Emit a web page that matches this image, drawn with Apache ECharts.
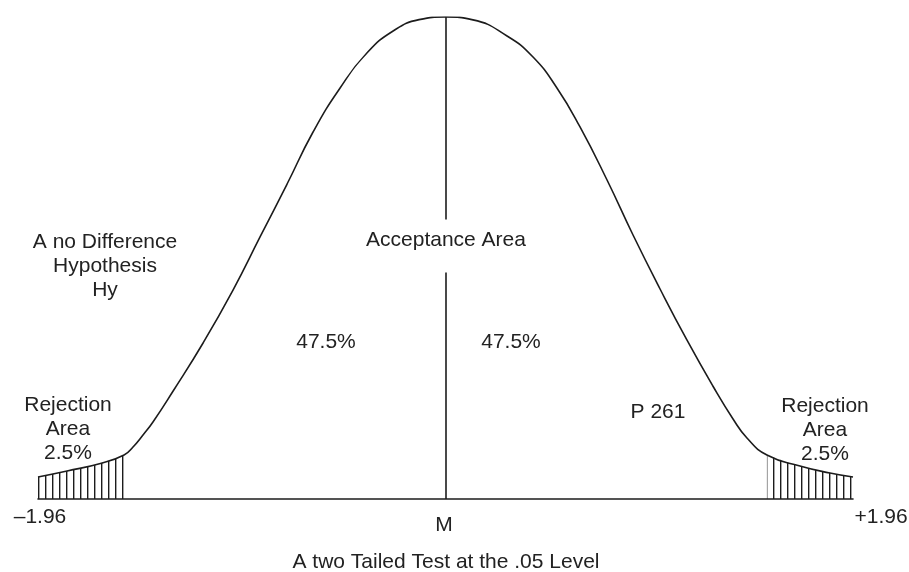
<!DOCTYPE html>
<html>
<head>
<meta charset="utf-8">
<script src="https://cdn.jsdelivr.net/npm/echarts@6/dist/echarts.min.js"></script>
<style>
html, body { margin: 0; padding: 0; background: #fff; }
#chart { width: 909px; height: 572px; }
</style>
</head>
<body>
<div id="chart"></div>
<script>
// curve: z position and height (peak = 100)
var curveZ = [-1.96, -1.82, -1.66, -1.546, -1.503, -1.455, -1.407, -1.31, -1.166, -1.022, -0.892, -0.762, -0.637, -0.507, -0.378, -0.252, -0.127,
	0, 0.132, 0.296, 0.421, 0.536, 0.647, 0.777, 0.902, 1.032, 1.161, 1.286, 1.383, 1.45, 1.546, 1.705, 1.849, 1.96];
var curveH = [4.56, 5.81, 7.37, 9.13, 10.79, 13.28, 15.98, 22.41, 32.37, 43.36, 54.36, 65.35, 76.14, 85.27, 92.53, 97.1, 99.45,
	100, 99.4, 96.06, 91.7, 85.27, 77.18, 66.18, 54.77, 43.57, 32.99, 23.44, 16.6, 12.66, 9.13, 6.85, 5.39, 4.56];

// rejection tails (hatched)
var tailLeft = [-1.96, -1.546];
var tailRight = [1.546, 1.96];

// mean line, broken where the label sits
var meanZ = 0;
var meanGap = [47, 58];

var ink = '#1c1c1c';
var font = '"Liberation Sans", Arial, sans-serif';

var myChart = echarts.init(document.getElementById('chart'));

function pointsBetween(range) {
	var pts = [];
	for (var i = 0; i < curveZ.length; i++) {
		if (curveZ[i] >= range[0] - 1e-9 && curveZ[i] <= range[1] + 1e-9) {
			pts.push([curveZ[i], curveH[i]]);
		}
	}
	return pts;
}

var curve = [];
for (var i = 0; i < curveZ.length; i++) {
	curve.push([curveZ[i], curveH[i]]);
}

// vertical stripe pattern for the hatching
var tile = document.createElement('canvas');
tile.width = 7;
tile.height = 7;
var tctx = tile.getContext('2d');
tctx.fillStyle = ink;
tctx.fillRect(3, 0, 1.4, 7);

function txt(str, x, y) {
	return {
		type: 'text',
		x: x,
		y: y,
		style: {
			text: str,
			fill: '#222',
			font: '21px ' + font,
			align: 'center',
			verticalAlign: 'middle',
			lineHeight: 24
		}
	};
}

var option = {
	animation: false,
	backgroundColor: '#fff',
	grid: { left: 38, right: 56, top: 17, bottom: 73 },
	xAxis: {
		type: 'value',
		min: -1.96,
		max: 1.96,
		axisLine: { show: true, onZero: false, lineStyle: { color: ink, width: 1.6 } },
		axisTick: { show: false },
		axisLabel: { show: false },
		splitLine: { show: false }
	},
	yAxis: {
		type: 'value',
		min: 0,
		max: 100,
		show: false
	},
	series: [
		{
			type: 'line',
			data: pointsBetween(tailLeft),
			smooth: 0.5,
			symbol: 'none',
			lineStyle: { width: 0 },
			areaStyle: { color: { image: tile, repeat: 'repeat' }, opacity: 1 },
			silent: true
		},
		{
			type: 'line',
			data: pointsBetween(tailRight),
			smooth: 0.5,
			symbol: 'none',
			lineStyle: { width: 0 },
			areaStyle: { color: { image: tile, repeat: 'repeat' }, opacity: 1 },
			silent: true
		},
		{
			type: 'line',
			data: curve,
			smooth: 0.5,
			symbol: 'none',
			lineStyle: { color: ink, width: 1.6 },
			silent: true,
			markLine: {
				silent: true,
				symbol: 'none',
				label: { show: false },
				lineStyle: { color: ink, width: 1.6, type: 'solid' },
				data: [
					[{ coord: [meanZ, 0] }, { coord: [meanZ, meanGap[0]] }],
					[{ coord: [meanZ, meanGap[1]] }, { coord: [meanZ, 100] }]
				]
			}
		}
	],
	graphic: [
		txt('A no Difference\nHypothesis\nHy', 105, 266),
		txt('Acceptance Area', 446, 240),
		txt('47.5%', 326, 342),
		txt('47.5%', 511, 342),
		txt('P 261', 658, 412),
		txt('Rejection\nArea\n2.5%', 68, 429),
		txt('Rejection\nArea\n2.5%', 825, 430),
		txt('\u20131.96', 40, 517),
		txt('M', 444, 525),
		txt('+1.96', 881, 517),
		txt('A two Tailed Test at the .05 Level', 446, 562)
	]
};

myChart.setOption(option);
</script>
</body>
</html>
